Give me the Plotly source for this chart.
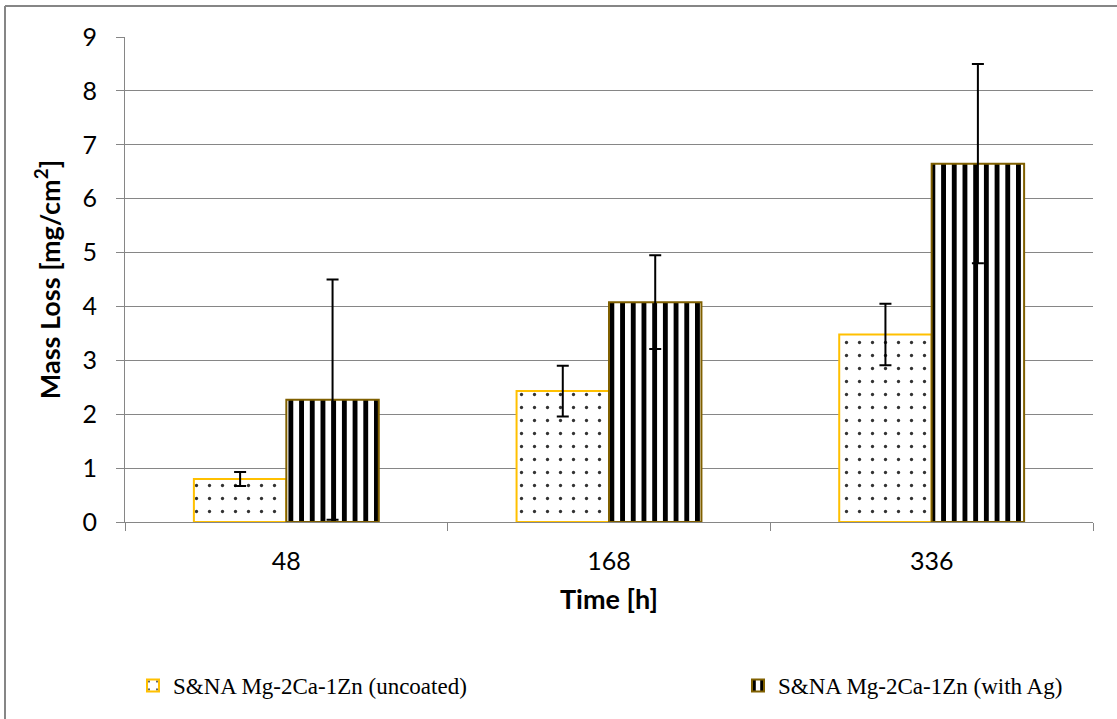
import plotly.graph_objects as go

# Immersion time categories
times = ["48", "168", "336"]

# Mean mass loss [mg/cm²] and standard deviations
uncoated = [0.80, 2.43, 3.48]
uncoated_err = [0.13, 0.47, 0.57]
with_ag = [2.27, 4.08, 6.65]
with_ag_err = [2.23, 0.87, 1.85]

series_names = ["S&NA Mg-2Ca-1Zn (uncoated)", "S&NA Mg-2Ca-1Zn (with Ag)"]

W, H = 1117, 719
L, R, T, B = 125, 24, 37, 197
plot_w = W - L - R
plot_h = H - T - B


def px_x(p):
    return (p - L) / plot_w


def px_y(p):
    return (H - B - p) / plot_h


err_style = dict(type="data", visible=True, color="black", thickness=2, width=6)

fig = go.Figure()
fig.add_trace(go.Bar(
    x=times, y=uncoated, name=series_names[0], legend="legend",
    error_y=dict(array=uncoated_err, **err_style),
    marker=dict(
        color="white",
        line=dict(color="#FFC000", width=2),
        pattern=dict(shape=".", fgcolor="#333333", bgcolor="white",
                     size=13, solidity=0.05, fillmode="replace"),
    ),
))
fig.add_trace(go.Bar(
    x=times, y=with_ag, name=series_names[1], legend="legend2",
    error_y=dict(array=with_ag_err, **err_style),
    marker=dict(
        color="white",
        line=dict(color="#806000", width=2),
        pattern=dict(shape="|", fgcolor="black", bgcolor="white",
                     size=10.7, solidity=0.45, fillmode="replace"),
    ),
))

tick_font = dict(family="Lato, 'Open Sans', sans-serif", size=25, color="black")
title_font = dict(family="Lato, 'Open Sans', sans-serif", size=27, color="black")
legend_font = dict(family="'Liberation Serif', 'Times New Roman', serif", size=23, color="black")

legend_common = dict(
    orientation="h", xanchor="left", yanchor="top",
    font=legend_font, bgcolor="rgba(0,0,0,0)", itemsizing="constant",
)

fig.update_layout(
    width=W, height=H,
    margin=dict(l=L, r=R, t=T, b=B, pad=0, autoexpand=False),
    paper_bgcolor="white", plot_bgcolor="white",
    barmode="group", bargap=0.427, bargroupgap=0,
    showlegend=True,
    legend=dict(x=px_x(133), y=px_y(664), **legend_common),
    legend2=dict(x=px_x(738), y=px_y(664), **legend_common),
    xaxis=dict(
        tickfont=tick_font, automargin=False,
        title=dict(text="<b>Time [h]</b>", font=title_font, standoff=16),
        showline=True, linecolor="#868686", linewidth=1,
        ticks="outside", tickson="boundaries", ticklen=8, tickcolor="#868686",
        ticklabelstandoff=17,
        showgrid=False,
    ),
    yaxis=dict(
        range=[0, 9], dtick=1, automargin=False,
        tickfont=tick_font,
        title=dict(text="<b>Mass Loss [mg/cm<sup>2</sup>]</b>", font=title_font, standoff=14),
        showline=True, linecolor="#868686", linewidth=1,
        ticks="outside", ticklen=8, tickcolor="#868686",
        ticklabelstandoff=14,
        showgrid=True, gridcolor="#868686", gridwidth=1,
        zeroline=False,
    ),
    shapes=[
        dict(type="line", xref="paper", yref="paper",
             x0=px_x(5), x1=px_x(5), y0=px_y(6), y1=px_y(H + 5),
             line=dict(color="#868686", width=2), layer="below"),
        dict(type="line", xref="paper", yref="paper",
             x0=px_x(5), x1=px_x(W + 5), y0=px_y(6), y1=px_y(6),
             line=dict(color="#868686", width=2), layer="below"),
    ],
)

fig.write_html("out.html")
